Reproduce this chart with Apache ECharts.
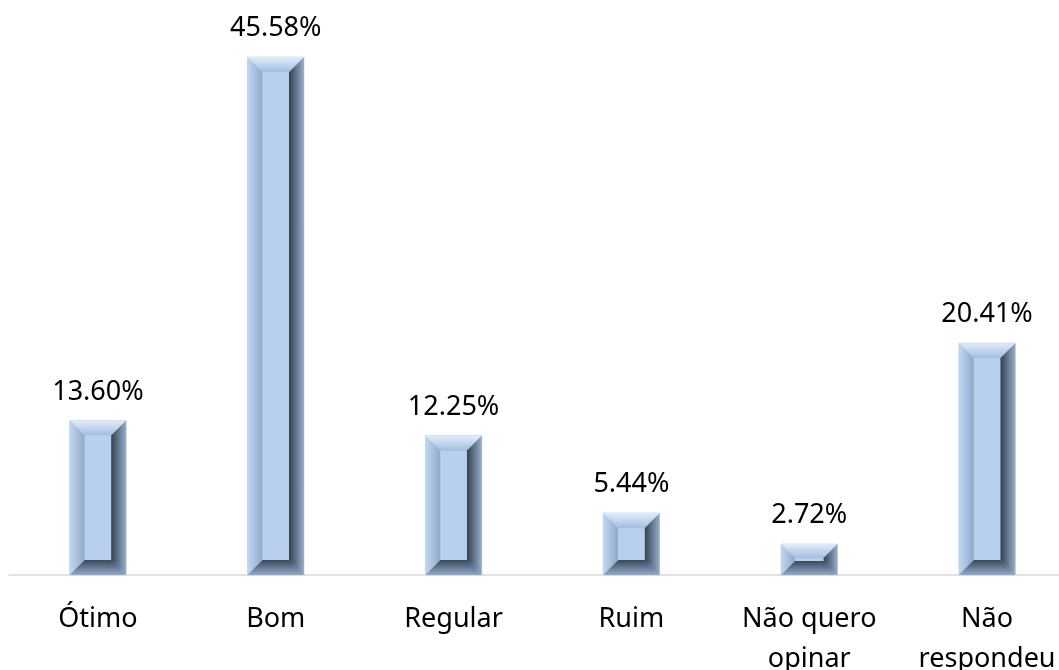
<!DOCTYPE html>
<html>
<head>
<meta charset="utf-8">
<script src="https://cdn.jsdelivr.net/npm/echarts@6/dist/echarts.min.js"></script>
<style>
  html, body { margin: 0; padding: 0; background: #fff; }
  #chart { width: 1059px; height: 670px; }
</style>
</head>
<body>
<div id="chart"></div>
<script>
var categories = ['Ótimo', 'Bom', 'Regular', 'Ruim', 'Não quero\nopinar', 'Não\nrespondeu']
var values = [13.60, 45.58, 12.25, 5.44, 2.72, 20.41]

var chart = echarts.init(document.getElementById('chart'))
var grad = function (x, y, x2, y2, c1, c2) {
  return new echarts.graphic.LinearGradient(x, y, x2, y2, [
    { offset: 0, color: c1 },
    { offset: 1, color: c2 }
  ])
}

// bar drawn as a bevelled box (like the excel "bevel" shape effect)
function renderBevel(params, api) {
  var v = api.value(1)
  var top = api.coord([api.value(0), v])
  var base = api.coord([api.value(0), 0])
  var w = api.size([1, 0])[0] * 0.317
  var x0 = top[0] - w / 2, x1 = top[0] + w / 2
  var y0 = top[1], y1 = base[1]
  var h = y1 - y0
  var b = Math.min(15, h / 2.2, w / 2.5)
  var ix0 = x0 + b, ix1 = x1 - b, iy0 = y0 + b, iy1 = y1 - b
  return {
    type: 'group',
    children: [
      { type: 'rect', shape: { x: x0, y: y0, width: w, height: h },
        style: { fill: '#b6cdea', stroke: '#c9d9ee', lineWidth: 1 } },
      { type: 'polygon', shape: { points: [[x0, y0], [x1, y0], [ix1, iy0], [ix0, iy0]] },
        style: { fill: grad(0, 0, 0, 1, '#e2ecf8', '#a3bddf') } },
      { type: 'polygon', shape: { points: [[x0, y0], [ix0, iy0], [ix0, iy1], [x0, y1]] },
        style: { fill: grad(0, 0, 1, 0, '#c3d6ee', '#8fa9cc') } },
      { type: 'polygon', shape: { points: [[x1, y0], [x1, y1], [ix1, iy1], [ix1, iy0]] },
        style: { fill: grad(0, 0, 1, 0, '#33404f', '#97aecb') } },
      { type: 'polygon', shape: { points: [[x0, y1], [ix0, iy1], [ix1, iy1], [x1, y1]] },
        style: { fill: grad(0, 0, 0, 1, '#3a4759', '#92aacb') } },
      { type: 'rect', shape: { x: ix0, y: iy0, width: ix1 - ix0, height: iy1 - iy0 },
        style: { fill: '#b8d0ee' } },
      { type: 'text', x: top[0], y: y0 - 15,
        style: { text: v.toFixed(2) + '%', align: 'center', verticalAlign: 'bottom',
          fontFamily: 'Noto Sans', fontSize: 27, fill: '#000' } }
    ]
  }
}

chart.setOption({
  animation: false,
  grid: { left: 9, right: -17, top: 7, bottom: 95, outerBoundsMode: 'none' },
  xAxis: {
    type: 'category',
    data: categories,
    axisTick: { show: false },
    axisLine: { lineStyle: { color: '#d9d9d9', width: 1.5 } },
    axisLabel: {
      margin: 24, interval: 0,
      fontFamily: 'Noto Sans', fontSize: 27, color: '#000', lineHeight: 40
    }
  },
  yAxis: {
    type: 'value', min: 0, max: 50, show: false,
    splitLine: { show: false }
  },
  series: [{
    type: 'custom',
    renderItem: renderBevel,
    data: values.map(function (v, i) { return [i, v] })
  }]
})
</script>
</body>
</html>
